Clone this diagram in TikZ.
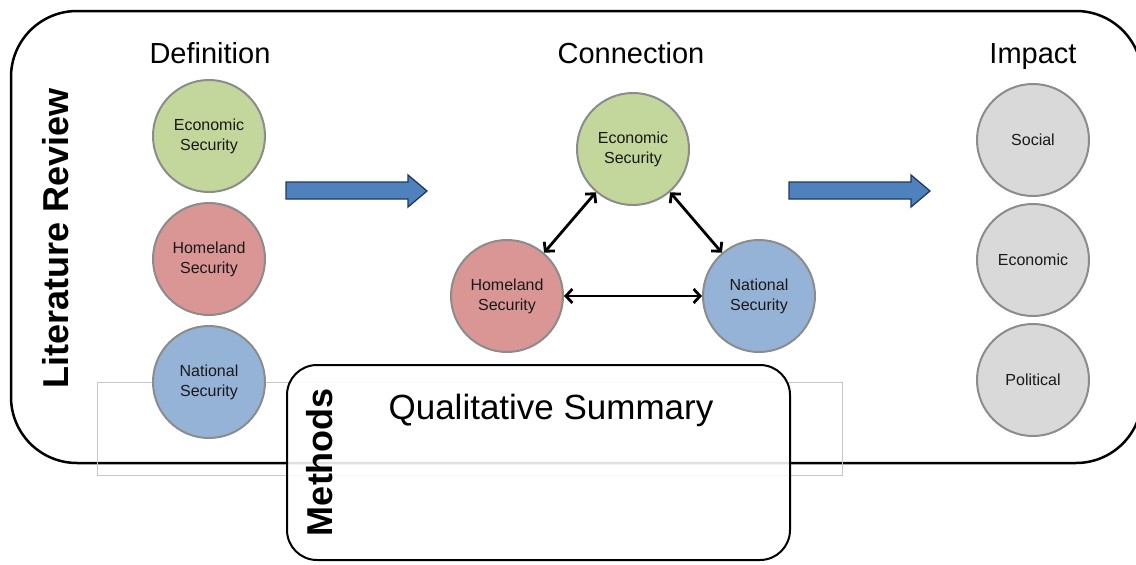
\documentclass[tikz,border=0pt]{standalone}
\usepackage{fontspec}
\setmainfont{Liberation Sans}
\usetikzlibrary{arrows.meta}
\definecolor{cgreen}{HTML}{C3D69B}
\definecolor{cred}{HTML}{D99694}
\definecolor{cblue}{HTML}{95B3D7}
\definecolor{cgray}{HTML}{D9D9D9}
\definecolor{cborder}{HTML}{8C8C8C}
\definecolor{afill}{HTML}{4F81BD}
\definecolor{aline}{HTML}{1F3864}
\definecolor{lightrule}{HTML}{C8C8C8}
\tikzset{
  bub/.style={circle, draw=cborder, line width=2pt, minimum size=112pt, inner sep=0pt, align=center, font=\fontsize{16}{20}\selectfont, text=black!90},
  hdr/.style={font=\fontsize{29}{32}\selectfont, anchor=base},
  vlab/.style={font=\bfseries\fontsize{36}{38}\selectfont, rotate=90},
  link/.style={line width=2.8pt, {Straight Barb[length=6.5pt,width=14pt]}-{Straight Barb[length=6.5pt,width=14pt]}},
  blk/.style={fill=afill, draw=aline, line width=1.3pt, line join=miter},
}
\begin{document}
\begin{tikzpicture}[x=1pt,y=-1pt]
\useasboundingbox (0,0) rectangle (1136,565);
% big literature review box
\draw[line width=2.5pt, rounded corners=66pt] (11,11) rectangle (1142,463);
% thin gray rectangle
\draw[draw=lightrule, line width=1pt] (97,382) rectangle (842,475);
% headers
\node[hdr] (hdef) at (210,63) {Definition};
\node[hdr] (hcon) at (631,63) {Connection};
\node[hdr] (himp) at (1033,63) {Impact};
\node[vlab] (lit) at (56,238) {Literature Review};
% definition column
\node[bub, fill=cgreen] (de) at (209,136) {Economic\\Security};
\node[bub, fill=cred] (dh) at (209,259) {Homeland\\Security};
\node[bub, fill=cblue] (dn) at (209,382) {National\\Security};
% connection triangle
\node[bub, fill=cgreen] (ce) at (633,149) {Economic\\Security};
\node[bub, fill=cred] (ch) at (507,296) {Homeland\\Security};
\node[bub, fill=cblue] (cn) at (759,296) {National\\Security};
\draw[link] (ch) -- (ce);
\draw[link] (ce) -- (cn);
\draw[link] (ch) -- (cn);
% impact column
\node[bub, fill=cgray] (is) at (1033,140) {Social};
\node[bub, fill=cgray] (ie) at (1033,260) {Economic};
\node[bub, fill=cgray] (ip) at (1033,380) {Political};
% block arrows
\draw[blk] (286,182) -- (408,182) -- (408,175) -- (427,191) -- (408,207) -- (408,199) -- (286,199) -- cycle;
\draw[blk] (789,182) -- (911,182) -- (911,175) -- (930,191) -- (911,207) -- (911,199) -- (789,199) -- cycle;
% methods box
\draw[line width=2pt, fill=white, fill opacity=0.88, rounded corners=30pt] (287,365) rectangle (790,560);
\node[vlab] (meth) at (320,462) {Methods};
\node[font=\fontsize{35}{38}\selectfont] (qs) at (551,410) {Qualitative Summary};
\end{tikzpicture}
\end{document}
